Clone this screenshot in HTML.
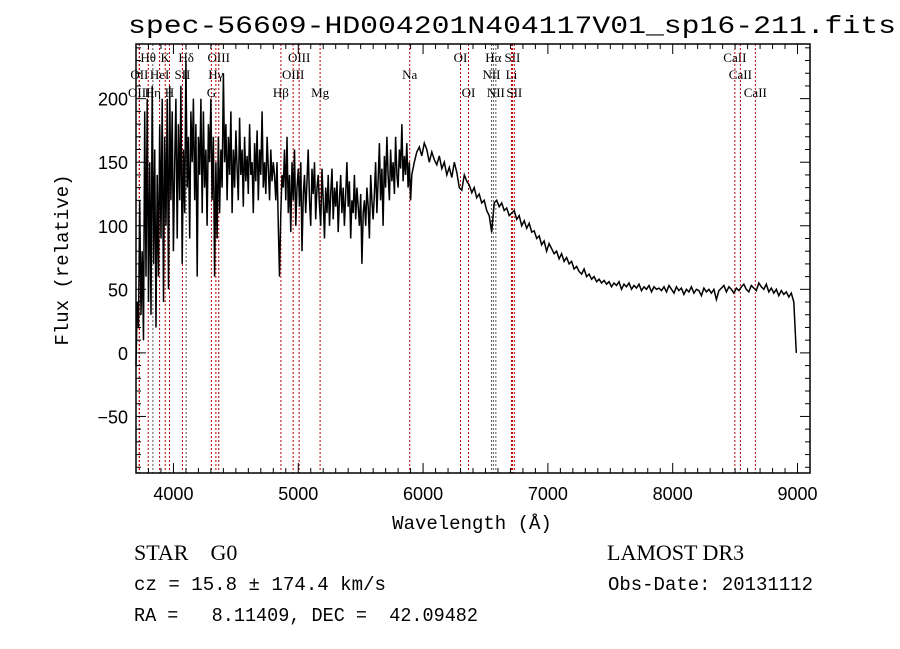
<!DOCTYPE html>
<html><head><meta charset="utf-8"><style>
html,body{margin:0;padding:0;background:#fff;}
svg{display:block;}
</style></head><body>
<svg id="chart" width="900" height="649" viewBox="0 0 900 649" xmlns="http://www.w3.org/2000/svg">
<rect width="900" height="649" fill="#fff"/>
<text x="512" y="33" text-anchor="middle" font-family="Liberation Mono, monospace" font-size="25" textLength="768" lengthAdjust="spacingAndGlyphs">spec-56609-HD004201N404117V01_sp16-211.fits</text>
<g id="lines"></g>
<g id="series"></g>
<g id="axes"></g>
<text x="472" y="529" text-anchor="middle" font-family="Liberation Mono, monospace" font-size="19">Wavelength (Å)</text>
<text transform="translate(68,260) rotate(-90)" text-anchor="middle" font-family="Liberation Mono, monospace" font-size="19">Flux (relative)</text>
<text x="134" y="560" font-family="Liberation Serif, serif" font-size="22" xml:space="preserve">STAR    G0</text>
<text x="607" y="560" font-family="Liberation Serif, serif" font-size="22">LAMOST DR3</text>
<text x="134" y="590" font-family="Liberation Mono, monospace" font-size="19" textLength="252" lengthAdjust="spacingAndGlyphs">cz = 15.8 ± 174.4 km/s</text>
<text x="608" y="590" font-family="Liberation Mono, monospace" font-size="19" textLength="205" lengthAdjust="spacingAndGlyphs">Obs-Date: 20131112</text>
<text x="134" y="621" font-family="Liberation Mono, monospace" font-size="19" xml:space="preserve" textLength="344" lengthAdjust="spacingAndGlyphs">RA =   8.11409, DEC =  42.09482</text>
</svg>
<script>
// ---- data ----
const seg1Start = 3700, seg1Step = 10;
const flux1 = [
-10,40,20,120,30,80,10,190,60,200,40,150,30,210,70,160,20,140,60,180,90,200,40,170,100,200,50,210,120,190,80,
150,200,90,180,120,210,70,160,110,230,130,170,90,190,150,200,120,180,60,170,140,200,110,190,130,160,100,180,150,200,
120,170,60,150,90,170,110,160,130,220,
150,180,120,170,140,190,110,160,130,175,145,120,185,140,160,115,170,135,155,125,180,140,150,110,165,135,175,120,160,140,190,130,150,125,170,145,120,160,135,150,
140,120,150,100,60,110,140,130,160,120,
170,110,140,95,150,120,160,100,130,145,115,150,80,125,140,110,135,160,120,100,145,125,150,105,130,140,115,100,145,120,
90,130,110,140,100,125,145,105,130,115,135,95,120,140,110,130,100,125,150,115,135,90,120,110,140,105,130,115,100,125,70,110,120,100,130,115,90,140,120,105,
125,150,110,135,165,120,145,100,155,130,170,140,120,160,135,150,125,170,140,130,160,145,180,135,155,140,165,130,150,120
];
const seg2Start = 5910, seg2Step = 20;
const flux2 = [
140,150,158,162,155,165,160,150,158,152,148,155,145,150,140,146,138,150,142,130,
128,140,135,132,126,130,122,125,118,120,112,108,95,118,120,115,118,112,114,108,
110,112,105,108,100,104,98,102,95,96,90,92,85,88,80,86,82,78,80,74,
78,72,75,70,72,66,68,64,62,66,60,62,58,60,56,58,55,57,54,56,
52,55,53,56,50,54,52,55,50,53,51,54,49,52,50,53,48,52,50,51,
49,52,48,53,50,47,52,49,51,46,50,48,52,47,50,49,45,51,48,50,
47,50,42,49,51,53,48,52,50,47,51,49,52,54,50,48,53,51,49,55,
52,50,54,48,51,47,50,45,49,46,48,44,47,40,0
];
const lineWaves = [3798,3934,4102,4363,5007,6300,6563,6716,8498, 3727,3889,4072,4340,4959,5893,6548,6708,8542, 3726,3835,3968,4304,4861,5175,6364,6583,6731,8662];
const lineLabels = ["Hθ","K","Hδ","OIII","OIII","OI","Hα","SII","CaII", "OII","HeI","SII","Hγ","OIII","Na","NII","Li","CaII", "OIII","Hη","H","G","Hβ","Mg","OI","NII","SII","CaII"];
const lineRows = [0,0,0,0,0,0,0,0,0, 1,1,1,1,1,1,1,1,1, 2,2,2,2,2,2,2,2,2,2];
const xTicks = [4000,5000,6000,7000,8000,9000];
const yTicks = [-50,0,50,100,150,200];

// ---- axes ----
const L=136,R=810,T=44,B=473, XMIN=3700, XMAX=9100, YMIN=-94.5, YMAX=243;
const xs = w => L + (w-XMIN)*(R-L)/(XMAX-XMIN);
const ys = f => B - (f-YMIN)*(B-T)/(YMAX-YMIN);
const NS="http://www.w3.org/2000/svg";
function mk(tag, parent, attrs){const e=document.createElementNS(NS,tag);for(const k in attrs)e.setAttribute(k,attrs[k]);parent.appendChild(e);return e;}

const gl=document.getElementById('lines');
lineWaves.forEach((w,i)=>{
  const x=xs(w);
  const dark = (w===6548||w===6563||w===6583||w===4102||w===3835);
  const ln=mk('line',gl,{x1:x,x2:x,y1:T,y2:B,stroke:dark?'#555':'#c00000','stroke-width':1,'stroke-dasharray':'2,2'});
  
  
  const t=mk('text',gl,{x:x,y:[62,79,97][lineRows[i]],'text-anchor':'middle','font-family':'Liberation Serif, serif','font-size':13});
  t.textContent=lineLabels[i];
  
  
});

const gs=document.getElementById('series');
let pts=[];
flux1.forEach((f,i)=>pts.push([xs(seg1Start+i*seg1Step),ys(f)]));
flux2.forEach((f,i)=>pts.push([xs(seg2Start+i*seg2Step),ys(f)]));
let d='';
pts.forEach((p,i)=>{d+=(i?'L':'M')+p[0].toFixed(1)+','+p[1].toFixed(1);});
const path=mk('path',gs,{d:d,fill:'none',stroke:'#000','stroke-width':1.5});



const ga=document.getElementById('axes');
const frame=mk('rect',ga,{x:L,y:T,width:R-L,height:B-T,fill:'none',stroke:'#000','stroke-width':1.5});


for(let w=3800;w<=XMAX;w+=100){
  const x=xs(w), major=(w%1000===0), len=major?10:5;
  mk('line',ga,{x1:x,x2:x,y1:B,y2:B-len,stroke:'#000','stroke-width':1});
  mk('line',ga,{x1:x,x2:x,y1:T,y2:T+len,stroke:'#000','stroke-width':1});
}
xTicks.forEach(w=>{
  const t=mk('text',ga,{x:xs(w),y:B+27,'text-anchor':'middle','font-family':'Liberation Sans, sans-serif','font-size':18});
  t.textContent=w;
  
  
});
for(let f=-90;f<=240;f+=10){
  const y=ys(f), major=(f%50===0), len=major?10:5;
  mk('line',ga,{x1:L,x2:L+len,y1:y,y2:y,stroke:'#000','stroke-width':1});
  mk('line',ga,{x1:R,x2:R-len,y1:y,y2:y,stroke:'#000','stroke-width':1});
}
yTicks.forEach(f=>{
  const t=mk('text',ga,{x:L-8,y:ys(f)+7,'text-anchor':'end','font-family':'Liberation Sans, sans-serif','font-size':18});
  t.textContent=f<0?'−'+Math.abs(f):f;
  
  
});
</script>
</body></html>
